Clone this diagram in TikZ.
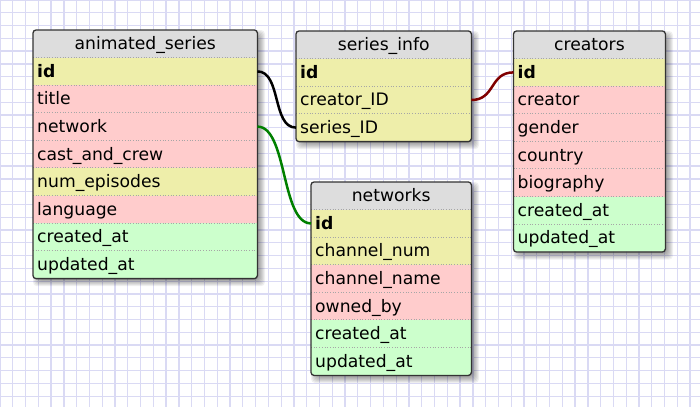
\documentclass[tikz,border=0pt]{standalone}
\usepackage{fontspec}
\setmainfont{DejaVu Sans}
\definecolor{hdr}{HTML}{DDDDDD}
\definecolor{yel}{HTML}{EEEEAA}
\definecolor{pnk}{HTML}{FFCCCC}
\definecolor{grn}{HTML}{CCFFCC}
\definecolor{gridc}{HTML}{DADAF4}
\definecolor{redlink}{HTML}{800000}
\definecolor{greenlink}{HTML}{008000}
\definecolor{framec}{HTML}{333333}
\tikzset{
  cell/.style={draw=none, anchor=north west, minimum height=27.6pt, inner xsep=4pt, inner ysep=0pt,
    text height=15pt, text depth=3.2pt, font=\fontsize{17.2}{20}\selectfont, align=left},
  hcell/.style={cell, fill=hdr, minimum height=27.4pt, align=center},
  frame/.style={draw=framec, line width=1.3pt, rounded corners=3pt},
  sep/.style={draw=gray!70, line width=0.7pt, dotted},
  gridline/.style={draw=gridc, line width=1.3pt},
  link/.style={line width=2.5pt},
  shadowpiece/.style={fill=black, opacity=0.06, rounded corners=4pt}
}
\newcommand{\tshadow}[4]{%
  \foreach \r in {4,3,2,1,0,-1,-2}{%
    \fill[shadowpiece] (#1+4-\r,#2+4-\r) rectangle (#3+4+\r,#4+4+\r);}}
\begin{document}
\begin{tikzpicture}[x=1pt,y=-1pt]
\useasboundingbox (0,0) rectangle (700,407);
\fill[white] (0,0) rectangle (700,407);
\foreach \i in {0,...,54} \draw[gridline] (\i*12.78,0) -- (\i*12.78,407);
\foreach \j in {0,...,31} \draw[gridline] (0,\j*12.78) -- (700,\j*12.78);

% shadows
\tshadow{33}{30}{257}{278.2}
\tshadow{296}{31}{471}{141.2}
\tshadow{513.5}{31}{665}{251.6}
\tshadow{311}{182}{471}{375}

% animated_series
\begin{scope}
\clip[rounded corners=3pt] (33,30) rectangle (257,278.2);
\tikzset{ca/.style={cell, text width=216pt}}
\node[hcell, text width=216pt] (as-h) at (33,30) {animated\_series};
\node[ca, fill=yel] (as-1) at (33,57.4) {\textbf{id}};
\node[ca, fill=pnk] (as-2) at (33,85.0) {title};
\node[ca, fill=pnk] (as-3) at (33,112.6) {network};
\node[ca, fill=pnk] (as-4) at (33,140.2) {cast\_and\_crew};
\node[ca, fill=yel] (as-5) at (33,167.8) {num\_episodes};
\node[ca, fill=pnk] (as-6) at (33,195.4) {language};
\node[ca, fill=grn] (as-7) at (33,223.0) {created\_at};
\node[ca, fill=grn] (as-8) at (33,250.6) {updated\_at};
\foreach \n in {1,...,8} \draw[sep] (as-\n.north west) -- (as-\n.north east);
\end{scope}
\draw[frame] (as-h.north west) rectangle (as-8.south east);

% series_info
\begin{scope}
\clip[rounded corners=3pt] (296,31) rectangle (471,141.2);
\tikzset{cb/.style={cell, text width=167pt}}
\node[hcell, text width=167pt] (si-h) at (296,31) {series\_info};
\node[cb, fill=yel] (si-1) at (296,58.4) {\textbf{id}};
\node[cb, fill=yel] (si-2) at (296,86.0) {creator\_ID};
\node[cb, fill=yel] (si-3) at (296,113.6) {series\_ID};
\foreach \n in {1,...,3} \draw[sep] (si-\n.north west) -- (si-\n.north east);
\end{scope}
\draw[frame] (si-h.north west) rectangle (si-3.south east);

% creators
\begin{scope}
\clip[rounded corners=3pt] (513.5,31) rectangle (665,251.6);
\tikzset{cc/.style={cell, text width=143.5pt}}
\node[hcell, text width=143.5pt] (cr-h) at (513.5,31) {creators};
\node[cc, fill=yel] (cr-1) at (513.5,58.4) {\textbf{id}};
\node[cc, fill=pnk] (cr-2) at (513.5,86.0) {creator};
\node[cc, fill=pnk] (cr-3) at (513.5,113.6) {gender};
\node[cc, fill=pnk] (cr-4) at (513.5,141.2) {country};
\node[cc, fill=pnk] (cr-5) at (513.5,168.8) {biography};
\node[cc, fill=grn] (cr-6) at (513.5,196.4) {created\_at};
\node[cc, fill=grn] (cr-7) at (513.5,224.0) {updated\_at};
\foreach \n in {1,...,7} \draw[sep] (cr-\n.north west) -- (cr-\n.north east);
\end{scope}
\draw[frame] (cr-h.north west) rectangle (cr-7.south east);

% networks
\begin{scope}
\clip[rounded corners=3pt] (311,182) rectangle (471,375);
\tikzset{cd/.style={cell, text width=152pt}}
\node[hcell, text width=152pt] (nw-h) at (311,182) {networks};
\node[cd, fill=yel] (nw-1) at (311,209.4) {\textbf{id}};
\node[cd, fill=yel] (nw-2) at (311,237.0) {channel\_num};
\node[cd, fill=pnk] (nw-3) at (311,264.6) {channel\_name};
\node[cd, fill=pnk] (nw-4) at (311,292.2) {owned\_by};
\node[cd, fill=grn] (nw-5) at (311,319.8) {created\_at};
\node[cd, fill=grn] (nw-6) at (311,347.4) {updated\_at};
\foreach \n in {1,...,6} \draw[sep] (nw-\n.north west) -- (nw-\n.north east);
\end{scope}
\draw[frame] (nw-h.north west) rectangle (nw-6.south east);

% connectors
\draw[link, black] (as-1.east) .. controls +(24,0) and +(-24,0) .. (si-3.west);
\draw[link, greenlink] (as-3.east) .. controls +(30,0) and +(-30,0) .. (nw-1.west);
\draw[link, redlink] (si-2.east) .. controls +(24,0) and +(-24,0) .. (cr-1.west);
\end{tikzpicture}
\end{document}
